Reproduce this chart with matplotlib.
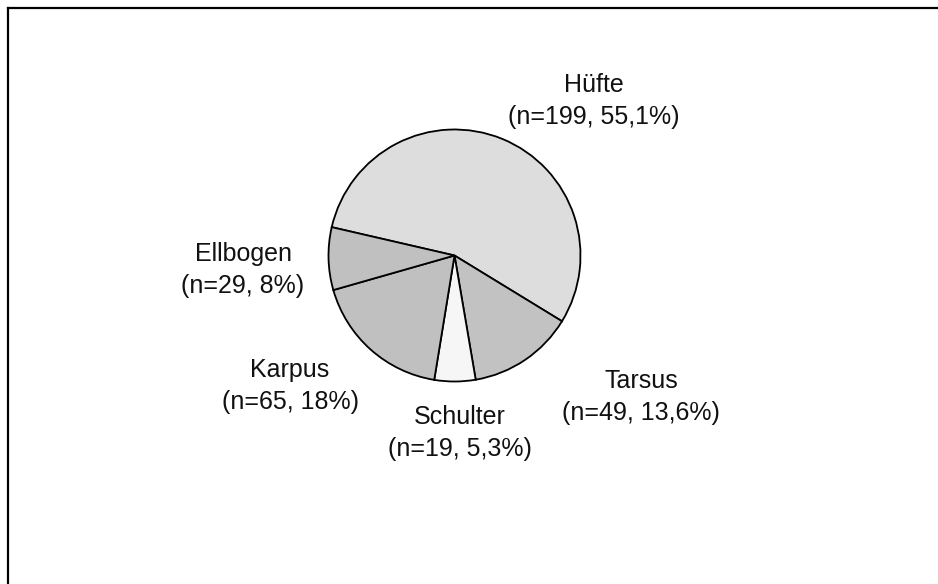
import matplotlib
matplotlib.use("Agg")
import matplotlib.pyplot as plt
from matplotlib.lines import Line2D

categories = ["Hüfte", "Tarsus", "Schulter", "Karpus", "Ellbogen"]
counts = [199, 49, 19, 65, 29]
pct_labels = ["55,1%", "13,6%", "5,3%", "18%", "8%"]
colors = ["#DDDDDD", "#C2C2C2", "#F6F6F6", "#C0C0C0", "#C0C0C0"]

# label centre positions in pixels (x, y from top)
label_pos = [(594, 101), (641, 397), (460, 433), (290, 386), (243, 270)]

W, H = 938, 584
fig = plt.figure(figsize=(W / 100, H / 100), dpi=100)
ax = fig.add_axes([0, 0, 1, 1])
cx, cy, r = 454.5, H - 255.5, 126
ax.pie(counts, colors=colors, startangle=167, counterclock=False,
       center=(cx, cy), radius=r, frame=True,
       wedgeprops=dict(edgecolor="black", linewidth=1.3))
ax.set_xlim(0, W)
ax.set_ylim(0, H)
ax.set_aspect("equal")
ax.axis("off")

for cat, n, p, (x, y) in zip(categories, counts, pct_labels, label_pos):
    ax.text(x, H - y, f"{cat}\n(n={n}, {p})", ha="center", va="center",
            fontsize=18, family="Liberation Sans", color="#111111",
            linespacing=1.45)

# outer frame (left and top edges visible)
ax.add_line(Line2D([8, 8], [0, H - 8], color="black", lw=1.6))
ax.add_line(Line2D([8, W], [H - 8, H - 8], color="black", lw=1.6))

fig.savefig("out.png", dpi=100)
